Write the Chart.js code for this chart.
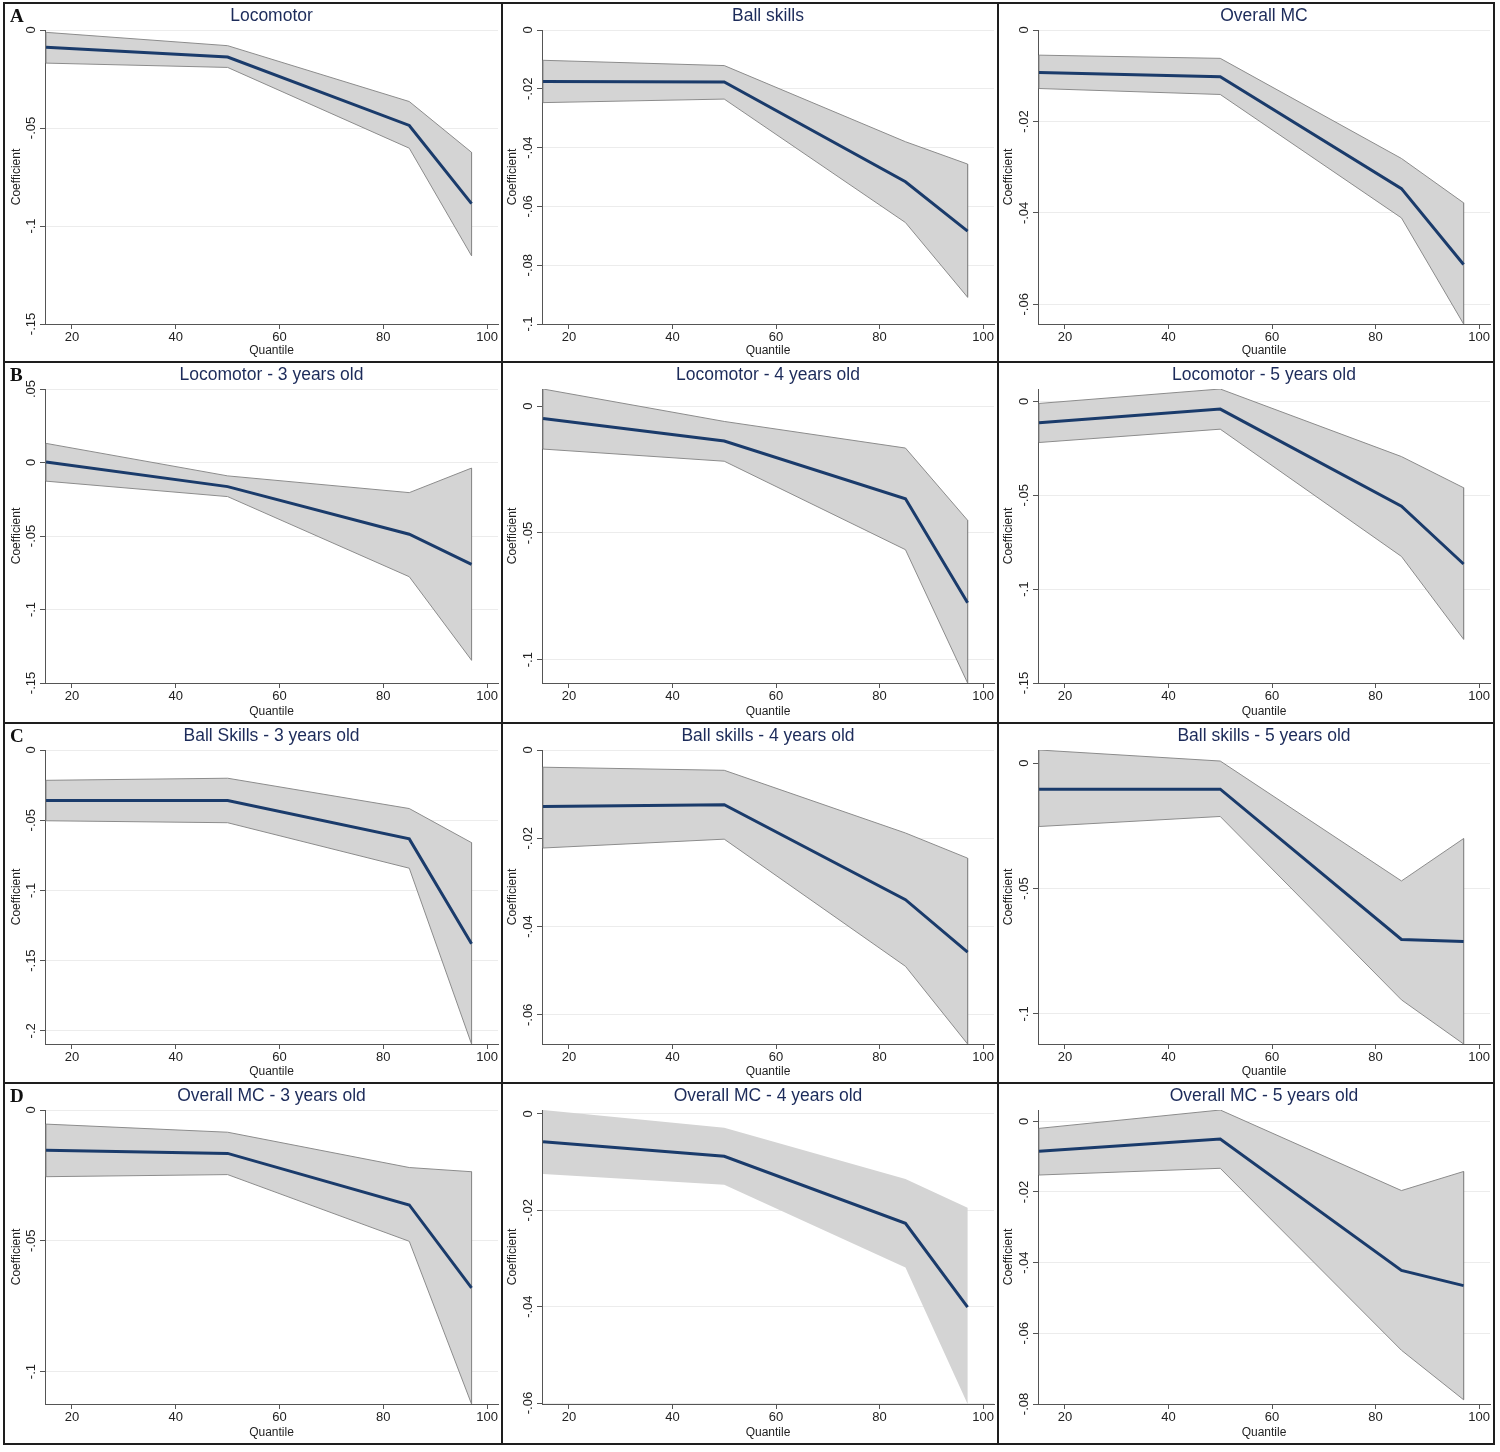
<!DOCTYPE html>
<html><head><meta charset="utf-8">
<script src="https://cdn.jsdelivr.net/npm/chart.js@4.4.1/dist/chart.umd.min.js"></script>
<style>
html,body{margin:0;padding:0;background:#fff;}
#wrap{position:relative;width:1500px;height:1452px;background:#fff;overflow:hidden;}
#wrap canvas{position:absolute;}
.ln{position:absolute;background:#1e1e1e;z-index:4;}
.lt{position:absolute;font-family:"Liberation Serif","Times New Roman",serif;font-weight:bold;font-size:19px;line-height:19px;color:#111;z-index:5;}
</style></head><body><div id="wrap"></div>
<script>
// ---------- DATA ----------
const quantiles = [15, 50, 85, 97];
const xTickLabels = ["20", "40", "60", "80", "100"];
const panelLetters = ["A", "B", "C", "D"];
const panelTitles = [
  "Locomotor", "Ball skills", "Overall MC",
  "Locomotor - 3 years old", "Locomotor - 4 years old", "Locomotor - 5 years old",
  "Ball Skills - 3 years old", "Ball skills - 4 years old", "Ball skills - 5 years old",
  "Overall MC - 3 years old", "Overall MC - 4 years old", "Overall MC - 5 years old"
];

// A
const locoCoef  = [-0.0088, -0.0138, -0.0487, -0.0886];
const locoUpper = [-0.0012, -0.0080, -0.0365, -0.0624];
const locoLower = [-0.0169, -0.0191, -0.0603, -0.1152];
const locoTicks = ["0", "-.05", "-.1", "-.15"];

const ballCoef  = [-0.0175, -0.0177, -0.0516, -0.0684];
const ballUpper = [-0.0103, -0.0121, -0.0380, -0.0456];
const ballLower = [-0.0247, -0.0235, -0.0655, -0.0909];
const ballTicks = ["0", "-.02", "-.04", "-.06", "-.08", "-.1"];

const mcCoef  = [-0.0093, -0.0102, -0.0347, -0.0513];
const mcUpper = [-0.0055, -0.0062, -0.0281, -0.0378];
const mcLower = [-0.0128, -0.0141, -0.0411, -0.0643];
const mcTicks = ["0", "-.02", "-.04", "-.06"];

// B
const loco3Coef  = [0.0003, -0.0164, -0.0488, -0.0693];
const loco3Upper = [0.0130, -0.0091, -0.0205, -0.0038];
const loco3Lower = [-0.0127, -0.0232, -0.0777, -0.1345];
const loco3Ticks = [".05", "0", "-.05", "-.1", "-.15"];

const loco4Coef  = [-0.0048, -0.0137, -0.0365, -0.0775];
const loco4Upper = [0.0068, -0.0060, -0.0165, -0.0450];
const loco4Lower = [-0.0169, -0.0217, -0.0566, -0.1092];
const loco4Ticks = ["0", "-.05", "-.1"];

const loco5Coef  = [-0.0114, -0.0041, -0.0558, -0.0866];
const loco5Upper = [-0.0011, 0.0066, -0.0294, -0.0460];
const loco5Lower = [-0.0219, -0.0148, -0.0826, -0.1267];
const loco5Ticks = ["0", "-.05", "-.1", "-.15"];

// C
const ball3Coef  = [-0.0360, -0.0360, -0.0633, -0.1380];
const ball3Upper = [-0.0216, -0.0201, -0.0417, -0.0660];
const ball3Lower = [-0.0504, -0.0518, -0.0842, -0.2094];
const ball3Ticks = ["0", "-.05", "-.1", "-.15", "-.2"];

const ball4Coef  = [-0.0128, -0.0124, -0.0339, -0.0458];
const ball4Upper = [-0.0039, -0.0046, -0.0188, -0.0245];
const ball4Lower = [-0.0222, -0.0202, -0.0490, -0.0666];
const ball4Ticks = ["0", "-.02", "-.04", "-.06"];

const ball5Coef  = [-0.0104, -0.0104, -0.0703, -0.0711];
const ball5Upper = [0.0052, 0.0008, -0.0470, -0.0301];
const ball5Lower = [-0.0253, -0.0213, -0.0944, -0.1120];
const ball5Ticks = ["0", "-.05", "-.1"];

// D
const mc3Coef  = [-0.0154, -0.0166, -0.0363, -0.0680];
const mc3Upper = [-0.0054, -0.0085, -0.0220, -0.0236];
const mc3Lower = [-0.0255, -0.0247, -0.0502, -0.1124];
const mc3Ticks = ["0", "-.05", "-.1"];

const mc4Coef  = [-0.0058, -0.0088, -0.0227, -0.0401];
const mc4Upper = [0.0008, -0.0029, -0.0135, -0.0195];
const mc4Lower = [-0.0125, -0.0147, -0.0319, -0.0602];
const mc4Ticks = ["0", "-.02", "-.04", "-.06"];

const mc5Coef  = [-0.0085, -0.0050, -0.0422, -0.0465];
const mc5Upper = [-0.0020, 0.0032, -0.0196, -0.0142];
const mc5Lower = [-0.0152, -0.0133, -0.0648, -0.0788];
const mc5Ticks = ["0", "-.02", "-.04", "-.06", "-.08"];

const panels = [
  [locoCoef, locoUpper, locoLower, locoTicks],
  [ballCoef, ballUpper, ballLower, ballTicks],
  [mcCoef, mcUpper, mcLower, mcTicks],
  [loco3Coef, loco3Upper, loco3Lower, loco3Ticks],
  [loco4Coef, loco4Upper, loco4Lower, loco4Ticks],
  [loco5Coef, loco5Upper, loco5Lower, loco5Ticks],
  [ball3Coef, ball3Upper, ball3Lower, ball3Ticks],
  [ball4Coef, ball4Upper, ball4Lower, ball4Ticks],
  [ball5Coef, ball5Upper, ball5Lower, ball5Ticks],
  [mc3Coef, mc3Upper, mc3Lower, mc3Ticks],
  [mc4Coef, mc4Upper, mc4Lower, mc4Ticks],
  [mc5Coef, mc5Upper, mc5Lower, mc5Ticks]
];

// ---------- LAYOUT / STYLE ----------
const FONT = "'Liberation Sans', Arial, Helvetica, sans-serif";
const xs = [4, 502, 998, 1494];
const ys = [3, 362, 723, 1083, 1444];
const wrap = document.getElementById('wrap');

xs.forEach(x => {
  const d = document.createElement('div'); d.className = 'ln';
  d.style.left = (x - 1) + 'px'; d.style.top = (ys[0] - 1) + 'px';
  d.style.width = '2px'; d.style.height = (ys[4] - ys[0] + 2) + 'px';
  wrap.appendChild(d);
});
ys.forEach(y => {
  const d = document.createElement('div'); d.className = 'ln';
  d.style.left = (xs[0] - 1) + 'px'; d.style.top = (y - 1) + 'px';
  d.style.width = (xs[3] - xs[0] + 2) + 'px'; d.style.height = '2px';
  wrap.appendChild(d);
});
panelLetters.forEach((L, r) => {
  const d = document.createElement('div'); d.className = 'lt';
  d.textContent = L; d.style.left = '10px'; d.style.top = (ys[r] + 3) + 'px';
  wrap.appendChild(d);
});

const yTickPlugin = {
  id: 'yTickLabels',
  afterDraw(chart) {
    const s = chart.scales.y, ctx = chart.ctx;
    ctx.save();
    ctx.fillStyle = '#222';
    ctx.font = '13px ' + FONT;
    ctx.textAlign = 'center';
    ctx.textBaseline = 'alphabetic';
    s.ticks.forEach(t => {
      const y = s.getPixelForValue(t.value);
      ctx.save();
      ctx.translate(s.right - 10.5, y);
      ctx.rotate(-Math.PI / 2);
      ctx.fillText(t.label, 0, 0);
      ctx.restore();
    });
    ctx.restore();
  }
};

panels.forEach((p, i) => {
  const [coef, upper, lower, tickLabels] = p;
  const r = Math.floor(i / 3), c = i % 3;
  const W = xs[c + 1] - xs[c] - 2, H = ys[r + 1] - ys[r] - 2;
  const cv = document.createElement('canvas');
  cv.width = W; cv.height = H;
  cv.style.left = (xs[c] + 1) + 'px'; cv.style.top = (ys[r] + 1) + 'px';
  cv.style.width = W + 'px'; cv.style.height = H + 'px';
  wrap.appendChild(cv);

  const outlined = i !== 10;
  const tickVals = tickLabels.map(parseFloat);
  const yMin = Math.min(...lower, ...tickVals);
  const yMax = Math.max(...upper, ...tickVals);
  const band = quantiles.map((q, k) => ({x: q, y: upper[k]}))
    .concat(quantiles.map((q, k) => ({x: q, y: lower[k]})).reverse());
  band.push(band[0]);
  const line = quantiles.map((q, k) => ({x: q, y: coef[k]}));
  const yW = c === 0 ? 40 : 39;
  const yTitlePad = c === 0 ? 4.5 : 2.8;

  new Chart(cv, {
    type: 'line',
    data: {datasets: [
      {data: line, borderColor: '#1a3b6b', borderWidth: 3, pointRadius: 0, fill: false, order: 0},
      {data: band, borderColor: outlined ? '#8c8c8c' : 'rgba(0,0,0,0)', borderWidth: outlined ? 1 : 0,
       backgroundColor: '#d4d4d4', pointRadius: 0, fill: 'shape', order: 1}
    ]},
    options: {
      responsive: false, animation: false, devicePixelRatio: 1,
      events: [],
      layout: {padding: {left: 0, right: 3, top: 0, bottom: 0}},
      plugins: {
        legend: {display: false}, tooltip: {enabled: false},
        title: {display: true, text: panelTitles[i], color: '#1c2b5a', fullSize: false,
                font: {family: FONT, size: 17.5, weight: 'normal', lineHeight: 1.2},
                padding: {top: 2, bottom: 3}}
      },
      scales: {
        x: {
          type: 'linear', min: 14.8, max: 102.1,
          afterBuildTicks: s => { s.ticks = xTickLabels.map(l => ({value: parseFloat(l)})); },
          afterFit: s => { s.height = H - 320; },
          grid: {drawOnChartArea: false, drawTicks: true, tickLength: 5, tickColor: '#555'},
          border: {color: '#555', width: 1},
          ticks: {font: {family: FONT, size: 13}, color: '#222', padding: 1, maxRotation: 0, autoSkip: false,
                  callback: (v, k) => xTickLabels[k]},
          title: {display: true, text: 'Quantile', font: {family: FONT, size: 12}, color: '#222',
                  padding: {top: 0, bottom: 3.5}}
        },
        y: {
          type: 'linear', min: yMin, max: yMax,
          afterBuildTicks: s => { s.ticks = tickVals.map(v => ({value: v})); },
          afterFit: s => { s.width = yW; },
          ticks: {display: false, callback: (v, k) => tickLabels[k]},
          grid: {color: '#ececec', lineWidth: 1, drawTicks: true, tickLength: 5, tickColor: '#555'},
          border: {color: '#555', width: 1},
          title: {display: true, text: 'Coefficient', font: {family: FONT, size: 12}, color: '#222',
                  padding: {top: yTitlePad, bottom: 0}}
        }
      }
    },
    plugins: [yTickPlugin]
  });
});
</script></body></html>
